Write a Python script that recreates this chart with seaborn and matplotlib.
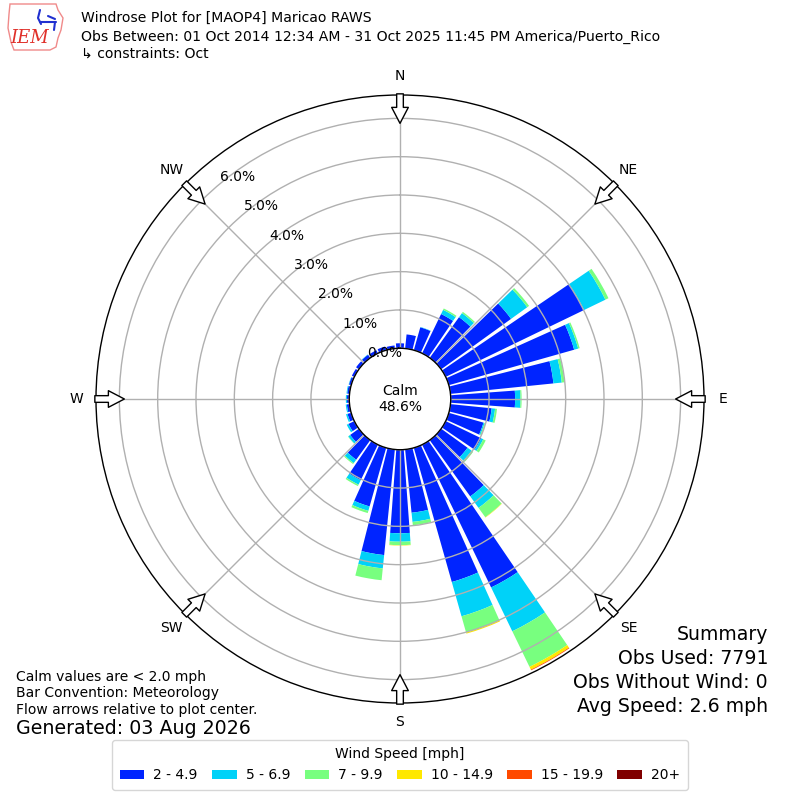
import numpy as np
import pandas as pd
import matplotlib
matplotlib.use("Agg")
import matplotlib.pyplot as plt
from matplotlib.patches import Polygon
from matplotlib.lines import Line2D
import seaborn as sns

# ---------------- data ----------------
directions = [0, 10, 20, 30, 40, 50, 60, 70, 80, 90, 100, 110,
              120, 130, 140, 150, 160, 170, 180, 190, 200, 210, 220, 230,
              240, 250, 260, 270, 280, 290, 300, 310, 320, 330, 340, 350]
speed_bins = ["2 - 4.9", "5 - 6.9", "7 - 9.9", "10 - 14.9", "15 - 19.9", "20+"]

pct_2_5 = [0.13, 0.37, 0.62, 1.14, 1.31, 2.25, 4.01, 3.40, 2.70, 1.68, 1.08, 0.94,
           1.03, 0.85, 1.81, 4.14, 3.64, 1.66, 2.18, 2.77, 1.59, 1.03, 0.63, 0.28,
           0.17, 0.10, 0.07, 0.06, 0.06, 0.06, 0.07, 0.09, 0.10, 0.09, 0.10, 0.08]
pct_5_7 = [0.00, 0.00, 0.01, 0.12, 0.13, 0.52, 0.62, 0.11, 0.22, 0.14, 0.09, 0.03,
           0.06, 0.13, 0.37, 1.27, 0.93, 0.24, 0.22, 0.35, 0.12, 0.13, 0.11, 0.06,
           0.05, 0.04, 0.03, 0.03, 0.02, 0.01, 0.00, 0.00, 0.01, 0.00, 0.00, 0.00]
pct_7_10 = [0.00, 0.00, 0.00, 0.04, 0.04, 0.06, 0.09, 0.04, 0.07, 0.03, 0.05, 0.03,
            0.07, 0.05, 0.30, 1.03, 0.44, 0.09, 0.09, 0.31, 0.06, 0.04, 0.03, 0.01,
            0.00, 0.00, 0.00, 0.00, 0.00, 0.00, 0.00, 0.00, 0.00, 0.00, 0.00, 0.00]
pct_10_15 = [0.00, 0.00, 0.00, 0.00, 0.00, 0.00, 0.00, 0.00, 0.00, 0.00, 0.00, 0.00,
             0.00, 0.00, 0.01, 0.08, 0.03, 0.00, 0.01, 0.00, 0.00, 0.00, 0.00, 0.00,
             0.00, 0.00, 0.00, 0.00, 0.00, 0.00, 0.00, 0.00, 0.00, 0.00, 0.00, 0.00]
pct_15_20 = [0.00, 0.00, 0.00, 0.00, 0.00, 0.00, 0.00, 0.00, 0.00, 0.00, 0.00, 0.00,
             0.00, 0.00, 0.00, 0.02, 0.00, 0.00, 0.00, 0.00, 0.00, 0.00, 0.00, 0.00,
             0.00, 0.00, 0.00, 0.00, 0.00, 0.00, 0.00, 0.00, 0.00, 0.00, 0.00, 0.00]
pct_20p = [0.0] * 36

radial_ticks = [0, 1, 2, 3, 4, 5, 6]
compass_labels = ["N", "NE", "E", "SE", "S", "SW", "W", "NW"]
compass_angles = [0, 45, 90, 135, 180, 225, 270, 315]

calm_pct = 48.6
obs_used = 7791
obs_without_wind = 0
avg_speed = 2.6

title_lines = ["Windrose Plot for [MAOP4] Maricao RAWS",
               "Obs Between: 01 Oct 2014 12:34 AM - 31 Oct 2025 11:45 PM America/Puerto_Rico",
               "\u21b3 constraints: Oct"]
notes = ["Calm values are < 2.0 mph", "Bar Convention: Meteorology",
         "Flow arrows relative to plot center."]
generated = "Generated: 03 Aug 2026"

# ---------------- style ----------------
sns.set_theme(style="white")
plt.rcParams["font.family"] = ["DejaVu Sans"]
plt.rcParams["axes.axisbelow"] = "line"
for key in ["text.color", "axes.labelcolor", "xtick.color", "ytick.color"]:
    plt.rcParams[key] = "black"
palette = sns.color_palette(["#0024ff", "#00d2f8", "#78ff7f", "#ffe800", "#ff4a00", "#800000"])

series = [pct_2_5, pct_5_7, pct_7_10, pct_10_15, pct_15_20, pct_20p]
df = pd.DataFrame({"direction": directions})
for name, vals in zip(speed_bins, series):
    df[name] = vals

fig = plt.figure(figsize=(8, 8), dpi=100)
ax = fig.add_axes([0.12, 0.12125, 0.76, 0.76], projection="polar")
ax.set_theta_zero_location("N")
ax.set_theta_direction(-1)
rmax = 6.61
ax.set_ylim(0, rmax)
ax.set_rorigin(-1.324)

theta = np.deg2rad(df["direction"].to_numpy(dtype=float))
width = np.deg2rad(10 * 0.84)
bottom = np.zeros(len(df))
handles = []
for name, color in zip(speed_bins, palette):
    vals = df[name].to_numpy(dtype=float)
    bars = ax.bar(theta, vals, width=width, bottom=bottom, color=color,
                  edgecolor="none", linewidth=0, label=name, align="center", zorder=1)
    handles.append(bars)
    bottom = bottom + vals

ax.set_yticks(radial_ticks)
ax.set_yticklabels([f"{t:.1f}%" for t in radial_ticks], fontsize=10, color="black")
ax.set_rlabel_position(320)
ax.set_xticks(np.deg2rad(compass_angles))
ax.set_xticklabels([])
ax.grid(True, color="#b0b0b0", lw=1.0)
for sp in ax.spines.values():
    sp.set_color("black")
    sp.set_linewidth(1.0)
ax.set_facecolor("white")

for lab, ang in zip(compass_labels, compass_angles):
    th = np.deg2rad(ang)
    ax.text(th, rmax + 0.5, lab, ha="center", va="center", fontsize=10,
            color="black", clip_on=False)
    ax.annotate("", xy=(th, rmax - 0.74), xytext=(th, rmax + 0.03),
                arrowprops=dict(arrowstyle="simple,head_length=1.15,head_width=1.2,tail_width=0.48",
                                facecolor="white", edgecolor="black", lw=1.0,
                                mutation_scale=10, shrinkA=0, shrinkB=0),
                annotation_clip=False, zorder=5)

fig.text(0.5, 0.50125, f"Calm\n{calm_pct:.1f}%", ha="center", va="center", fontsize=10)

# header
ys = [0.9775, 0.95375, 0.9325]
for line, y in zip(title_lines, ys):
    fig.text(0.10125, y, line, ha="left", va="center", fontsize=10.1)

# simple IEM logo (outline + glyphs)
W, H = 800.0, 800.0
outline_px = [(10, 4), (56, 4), (58, 10), (63, 18), (61, 30), (58, 38), (56, 47),
              (50, 50), (14, 50), (11, 42), (8, 28), (9, 14)]
fig.patches.append(Polygon([(x / W, 1 - y / H) for x, y in outline_px], closed=True,
                           transform=fig.transFigure, fill=False,
                           edgecolor="#f08a8a", lw=1.0))
for seg in [[(40, 10), (38, 18), (41, 24)], [(40, 22), (56, 22)], [(48, 16), (55, 19)],
            [(55, 22), (54, 30)]]:
    fig.lines.append(Line2D([x / W for x, _ in seg], [1 - y / H for _, y in seg],
                            transform=fig.transFigure, color="#2030d0", lw=1.5))
fig.text(0.037, 0.9525, "IEM", ha="center", va="center", color="#e0302a",
         fontstyle="italic", family="DejaVu Serif", fontsize=13)

# notes bottom-left
for line, y in zip(notes, [0.15375, 0.13375, 0.1125]):
    fig.text(0.02, y, line, ha="left", va="center", fontsize=10)
fig.text(0.02, 0.08875, generated, ha="left", va="center", fontsize=13.7)

# summary bottom-right
summary = ["Summary", f"Obs Used: {obs_used}", f"Obs Without Wind: {obs_without_wind}",
           f"Avg Speed: {avg_speed:.1f} mph"]
for line, y in zip(summary, [0.20625, 0.17625, 0.1475, 0.1175]):
    fig.text(0.96, y, line, ha="right", va="center", fontsize=13.6)

leg = fig.legend(handles, speed_bins, loc="lower center", bbox_to_anchor=(0.5, 0.0125),
                 ncol=6, title="Wind Speed [mph]", fontsize=10, title_fontsize=10,
                 frameon=True, borderaxespad=0, handlelength=1.75, handletextpad=0.65,
                 columnspacing=1.05, borderpad=0.55, fancybox=True)
leg.get_frame().set_edgecolor("#cccccc")

fig.savefig("out.png", dpi=100)
